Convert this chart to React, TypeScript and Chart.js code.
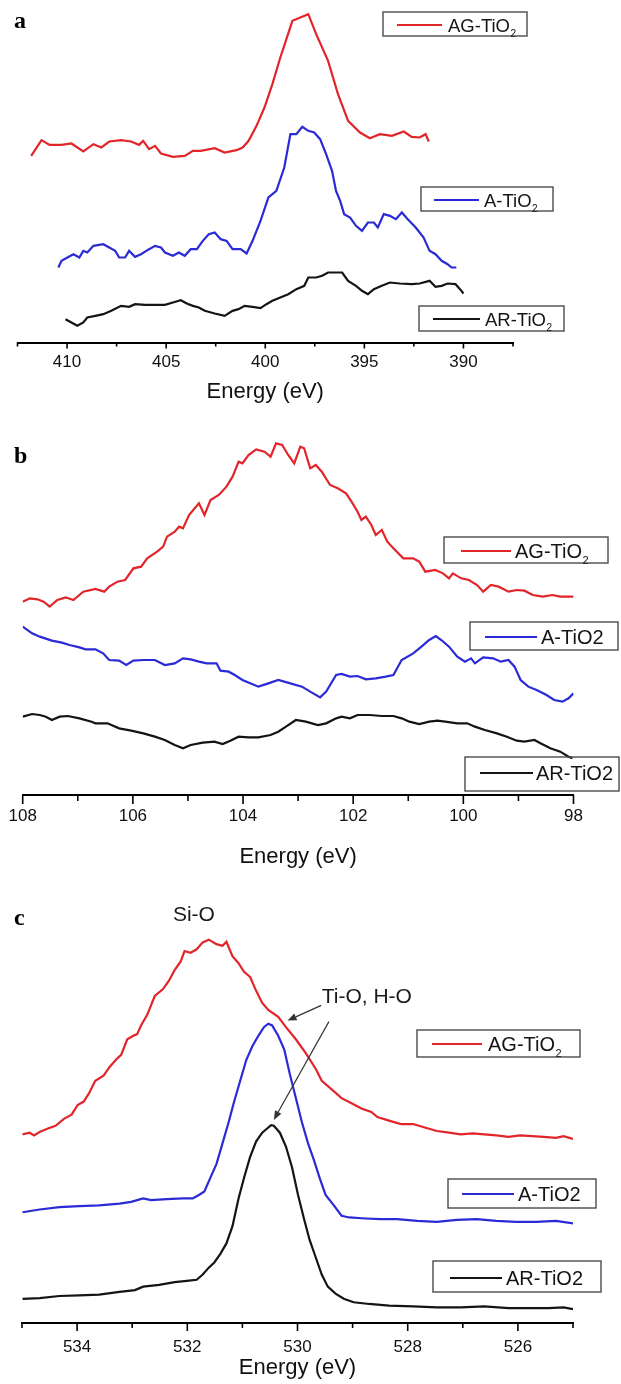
import React, { useEffect, useRef } from 'react';
import { Chart, registerables } from 'chart.js';

Chart.register(...registerables);

// ---------------- DATA ----------------
// Panel a (N 1s region)
const aNames = ['AG-TiO_2', 'A-TiO_2', 'AR-TiO_2'];
const aMajorTicks = [410, 405, 400, 395, 390];
const aMinorTicks = [412.5, 407.5, 402.5, 397.5, 392.5, 387.5];
const aEnergyAG = [411.81, 411.29, 410.88, 410.28, 409.78, 409.18, 408.67, 408.27, 407.87, 407.27, 406.77, 406.37, 406.16, 405.86, 405.56, 405.26, 404.66, 404.06, 403.65, 403.25, 402.55, 402.05, 401.45, 401.14, 400.84, 400.44, 400.04, 399.64, 399.24, 398.63, 398.23, 397.83, 397.43, 396.83, 396.33, 395.82, 395.22, 394.72, 394.22, 393.61, 393.01, 392.61, 392.21, 391.91, 391.75];
const aAG = [560, 607, 593, 593, 597, 573, 595, 585, 603, 607, 603, 593, 605, 580, 590, 567, 557, 560, 575, 575, 583, 570, 577, 585, 605, 650, 705, 775, 855, 965, 975, 985, 925, 845, 745, 665, 630, 613, 625, 620, 633, 617, 615, 625, 603];
const aEnergyA = [410.44, 410.28, 409.98, 409.68, 409.38, 409.18, 408.98, 408.67, 408.17, 407.87, 407.57, 407.37, 407.07, 406.87, 406.57, 406.27, 405.86, 405.56, 405.26, 405.06, 404.66, 404.36, 404.06, 403.76, 403.45, 403.15, 402.85, 402.55, 402.25, 401.95, 401.65, 401.24, 400.94, 400.64, 400.24, 399.84, 399.44, 399.04, 398.73, 398.43, 398.13, 397.83, 397.53, 397.23, 396.93, 396.63, 396.43, 396.22, 396.02, 395.72, 395.42, 395.12, 394.82, 394.52, 394.32, 394.02, 393.71, 393.41, 393.11, 392.81, 392.41, 392.01, 391.71, 391.41, 391.10, 390.80, 390.60, 390.36];
const aA = [225, 245, 255, 265, 255, 275, 270, 290, 295, 285, 275, 255, 255, 275, 257, 265, 280, 290, 285, 270, 260, 270, 260, 280, 280, 305, 325, 330, 310, 305, 280, 280, 267, 305, 365, 435, 455, 525, 625, 625, 647, 635, 630, 610, 565, 515, 455, 425, 385, 375, 350, 335, 360, 360, 345, 385, 380, 370, 390, 370, 345, 315, 275, 265, 245, 235, 225, 225];
const aEnergyAR = [410.08, 409.78, 409.48, 409.18, 408.98, 408.57, 408.17, 407.77, 407.27, 406.87, 406.57, 406.06, 405.56, 405.06, 404.66, 404.26, 403.96, 403.65, 403.35, 403.05, 402.55, 402.05, 401.65, 401.35, 401.04, 400.64, 400.24, 399.94, 399.64, 399.24, 398.84, 398.43, 398.03, 397.83, 397.43, 397.13, 396.83, 396.43, 396.12, 395.82, 395.42, 395.12, 394.82, 394.52, 394.12, 393.71, 393.21, 392.61, 392.21, 391.71, 391.41, 391.10, 390.80, 390.40, 390.10, 390.00];
const aAR = [70, 60, 50, 60, 75, 80, 85, 95, 110, 107, 115, 113, 113, 113, 120, 127, 117, 110, 105, 95, 87, 80, 95, 100, 110, 107, 103, 115, 125, 135, 145, 160, 170, 195, 195, 200, 210, 210, 210, 185, 170, 155, 145, 160, 170, 180, 177, 175, 177, 185, 167, 170, 177, 175, 155, 147];

// Panel b (Si 2p region)
const bNames = ['AG-TiO_2', 'A-TiO2', 'AR-TiO2'];
const bMajorTicks = [108, 106, 104, 102, 100, 98];
const bMinorTicks = [107, 105, 103, 101, 99];
const bEnergyAG = [108.00, 107.87, 107.73, 107.62, 107.51, 107.37, 107.22, 107.08, 106.90, 106.68, 106.52, 106.43, 106.28, 106.14, 105.99, 105.85, 105.74, 105.56, 105.45, 105.38, 105.24, 105.16, 105.09, 104.98, 104.80, 104.70, 104.59, 104.44, 104.30, 104.19, 104.08, 104.01, 103.90, 103.76, 103.61, 103.50, 103.40, 103.29, 103.18, 103.07, 102.96, 102.89, 102.78, 102.68, 102.57, 102.42, 102.28, 102.13, 102.03, 101.92, 101.85, 101.77, 101.67, 101.59, 101.48, 101.38, 101.27, 101.09, 100.91, 100.80, 100.69, 100.51, 100.37, 100.26, 100.19, 100.04, 99.90, 99.75, 99.64, 99.50, 99.36, 99.18, 99.03, 98.89, 98.74, 98.56, 98.38, 98.24, 98.00];
const bAG = [580, 590, 587, 580, 565, 585, 593, 585, 610, 618, 610, 625, 640, 645, 680, 685, 710, 730, 745, 775, 790, 805, 800, 840, 875, 840, 885, 900, 925, 955, 1000, 995, 1020, 1037, 1030, 1015, 1055, 1050, 1020, 995, 1045, 1040, 980, 990, 970, 930, 920, 905, 880, 850, 825, 835, 810, 780, 795, 760, 740, 710, 710, 700, 670, 675, 665, 650, 665, 650, 645, 630, 610, 630, 625, 610, 615, 613, 600, 595, 600, 595, 595];
const bEnergyA = [108.00, 107.83, 107.69, 107.47, 107.29, 107.15, 106.97, 106.86, 106.68, 106.54, 106.43, 106.25, 106.12, 105.99, 105.81, 105.60, 105.42, 105.24, 105.09, 104.95, 104.80, 104.66, 104.48, 104.41, 104.26, 104.15, 104.01, 103.87, 103.72, 103.54, 103.36, 103.14, 102.93, 102.78, 102.60, 102.49, 102.31, 102.21, 102.06, 101.92, 101.77, 101.59, 101.41, 101.27, 101.12, 100.91, 100.76, 100.62, 100.50, 100.40, 100.26, 100.11, 99.97, 99.86, 99.79, 99.64, 99.46, 99.32, 99.18, 99.07, 98.96, 98.82, 98.67, 98.49, 98.35, 98.20, 98.09, 98.00];
const bA = [505, 485, 475, 463, 457, 450, 443, 437, 437, 425, 405, 403, 390, 403, 405, 405, 390, 395, 410, 407, 400, 395, 395, 373, 370, 360, 345, 335, 325, 335, 345, 335, 325, 310, 293, 310, 360, 363, 355, 357, 347, 350, 355, 360, 405, 425, 445, 465, 477, 465, 445, 415, 400, 410, 395, 413, 410, 400, 405, 385, 345, 325, 315, 300, 285, 280, 290, 305];
const bEnergyAR = [108.00, 107.83, 107.69, 107.58, 107.47, 107.33, 107.18, 106.97, 106.75, 106.68, 106.46, 106.25, 106.03, 105.81, 105.60, 105.42, 105.24, 105.09, 104.95, 104.73, 104.52, 104.37, 104.23, 104.08, 103.90, 103.72, 103.50, 103.36, 103.22, 103.04, 102.86, 102.64, 102.49, 102.31, 102.21, 102.06, 101.92, 101.70, 101.48, 101.27, 101.12, 100.98, 100.80, 100.62, 100.47, 100.33, 100.11, 99.93, 99.79, 99.61, 99.39, 99.21, 99.03, 98.89, 98.71, 98.60, 98.42, 98.24, 98.09, 98.02];
const bAR = [235, 243, 240, 235, 225, 235, 237, 230, 220, 215, 215, 200, 193, 185, 175, 165, 150, 140, 150, 157, 160, 153, 163, 175, 173, 173, 180, 190, 205, 225, 220, 210, 215, 230, 235, 230, 240, 240, 237, 237, 230, 220, 213, 220, 223, 220, 215, 215, 205, 195, 185, 175, 163, 160, 165, 155, 140, 130, 115, 110];

// Panel c (O 1s region)
const cNames = ['AG-TiO_2', 'A-TiO2', 'AR-TiO2'];
const cMajorTicks = [534, 532, 530, 528, 526];
const cMinorTicks = [535, 533, 531, 529, 527, 525];
const cEnergyAG = [534.99, 534.86, 534.78, 534.68, 534.53, 534.39, 534.24, 534.10, 533.99, 533.88, 533.78, 533.67, 533.52, 533.41, 533.27, 533.20, 533.09, 532.98, 532.91, 532.84, 532.73, 532.59, 532.44, 532.33, 532.23, 532.12, 532.05, 531.94, 531.83, 531.72, 531.61, 531.47, 531.36, 531.29, 531.18, 531.07, 530.97, 530.86, 530.75, 530.64, 530.53, 530.35, 530.21, 530.03, 529.85, 529.67, 529.56, 529.38, 529.20, 529.02, 528.84, 528.66, 528.55, 528.34, 528.12, 527.90, 527.69, 527.47, 527.25, 527.04, 526.82, 526.61, 526.39, 526.17, 525.96, 525.74, 525.53, 525.31, 525.17, 525.00];
const cAG = [545, 550, 542, 552, 562, 570, 590, 602, 630, 640, 665, 700, 715, 740, 765, 775, 820, 830, 835, 860, 890, 945, 965, 990, 1020, 1045, 1075, 1070, 1080, 1100, 1108, 1095, 1090, 1102, 1060, 1040, 1015, 1000, 960, 925, 905, 885, 855, 820, 780, 735, 700, 675, 650, 635, 620, 610, 595, 585, 575, 575, 565, 555, 550, 545, 548, 545, 542, 538, 542, 540, 538, 535, 540, 532];
const cEnergyA = [534.99, 534.68, 534.32, 533.96, 533.60, 533.23, 533.02, 532.80, 532.66, 532.37, 532.08, 531.90, 531.79, 531.69, 531.58, 531.47, 531.36, 531.25, 531.15, 531.04, 530.93, 530.82, 530.71, 530.61, 530.53, 530.46, 530.35, 530.24, 530.14, 530.03, 529.92, 529.81, 529.70, 529.60, 529.49, 529.34, 529.20, 529.06, 528.77, 528.48, 528.19, 527.83, 527.47, 527.11, 526.75, 526.39, 526.03, 525.67, 525.31, 525.00];
const cA = [320, 328, 335, 338, 340, 345, 350, 360, 355, 358, 360, 360, 370, 380, 420, 460, 520, 580, 640, 700, 760, 800, 830, 855, 865, 860, 830, 790, 720, 650, 580, 520, 470, 420, 370, 340, 310, 305, 302, 300, 300, 295, 292, 298, 300, 295, 292, 292, 295, 288];
const cEnergyAR = [534.99, 534.68, 534.32, 533.96, 533.60, 533.23, 532.95, 532.80, 532.51, 532.23, 532.01, 531.83, 531.72, 531.61, 531.51, 531.40, 531.29, 531.18, 531.07, 530.97, 530.86, 530.75, 530.64, 530.53, 530.48, 530.43, 530.32, 530.21, 530.10, 529.99, 529.88, 529.78, 529.67, 529.56, 529.45, 529.31, 529.16, 528.98, 528.70, 528.34, 527.90, 527.47, 527.04, 526.61, 526.17, 525.81, 525.45, 525.17, 525.00];
const cAR = [70, 72, 78, 80, 82, 90, 95, 105, 110, 118, 122, 125, 140, 160, 175, 200, 230, 280, 360, 420, 480, 525, 550, 565, 572, 570, 550, 510, 450, 370, 300, 240, 190, 140, 105, 85, 70, 60, 55, 50, 48, 45, 45, 48, 43, 43, 43, 45, 40];

// Annotations of panel c, in data coordinates [energy, intensity]
const cNoteLabels = ['Si-O', 'Ti-O, H-O'];
const cNoteAt: [number, number][] = [[531.88, 1179], [529.56, 941]];
const cArrows: [number, number, number, number][] = [
  [529.57, 918, 530.18, 874],
  [529.43, 871, 530.43, 587],
];

// ---------------- STYLE / LAYOUT ----------------
const RED = '#e2252b';
const BLUE = '#2a2ad6';
const BLACK = '#141414';
const COLORS = [RED, BLUE, BLACK];
const FONT = "'Liberation Sans', Arial, Helvetica, sans-serif";
const SERIF = "'Liberation Serif', 'Times New Roman', serif";
const W = 621;

type LegendLayout = { box: [number, number, number, number]; line: [number, number]; y: number; textX: number };

interface PanelSpec {
  key: string;
  letter: string;
  letterPos: [number, number];
  top: number;
  height: number;
  axisY: number;
  padLeft: number;
  padRight: number;
  yMax: number;
  xMin: number;
  xMax: number;
  major: number[];
  minor: number[];
  majorLen: number;
  minorLen: number;
  tickPad: number;
  titlePadBottom: number;
  names: string[];
  xs: number[][];
  ys: number[][];
  legendFont: number;
  legends: LegendLayout[];
  notes?: { labels: string[]; at: [number, number][]; align: CanvasTextAlign[] };
  arrows?: [number, number, number, number][];
}

const PANELS: PanelSpec[] = [
  {
    key: 'a', letter: 'a', letterPos: [14, 28],
    top: 0, height: 405, axisY: 342.5, padLeft: 17.5, padRight: W - 513,
    yMax: 342.5 * 3, xMin: 387.5, xMax: 412.5,
    major: aMajorTicks, minor: aMinorTicks, majorLen: 6, minorLen: 4, tickPad: 4, titlePadBottom: 0,
    names: aNames, xs: [aEnergyAG, aEnergyA, aEnergyAR], ys: [aAG, aA, aAR],
    legendFont: 18.5,
    legends: [
      { box: [383, 12, 527, 36], line: [397, 442], y: 25, textX: 448 },
      { box: [421, 187, 553, 211], line: [434, 479], y: 200, textX: 484 },
      { box: [419, 306, 564, 331], line: [433, 480], y: 319, textX: 485 },
    ],
  },
  {
    key: 'b', letter: 'b', letterPos: [14, 58],
    top: 405, height: 465, axisY: 390, padLeft: 22.7, padRight: W - 573.5,
    yMax: 390 * 3, xMin: 98, xMax: 108,
    major: bMajorTicks, minor: bMinorTicks, majorLen: 9, minorLen: 6, tickPad: 2, titlePadBottom: 0,
    names: bNames, xs: [bEnergyAG, bEnergyA, bEnergyAR], ys: [bAG, bA, bAR],
    legendFont: 20,
    legends: [
      { box: [444, 132, 608, 158], line: [461, 511], y: 146, textX: 515 },
      { box: [470, 217, 618, 245], line: [485, 537], y: 232, textX: 541 },
      { box: [465, 352, 619, 386], line: [480, 533], y: 368, textX: 536 },
    ],
  },
  {
    key: 'c', letter: 'c', letterPos: [14, 55],
    top: 870, height: 514, axisY: 453, padLeft: 22, padRight: W - 573,
    yMax: 453 / 0.346, xMin: 525, xMax: 535,
    major: cMajorTicks, minor: cMinorTicks, majorLen: 8, minorLen: 5, tickPad: 6, titlePadBottom: 2.5,
    names: cNames, xs: [cEnergyAG, cEnergyA, cEnergyAR], ys: [cAG, cA, cAR],
    legendFont: 20,
    legends: [
      { box: [417, 160, 580, 187], line: [432, 482], y: 174, textX: 488 },
      { box: [448, 309, 596, 338], line: [462, 514], y: 324, textX: 518 },
      { box: [433, 391, 601, 422], line: [450, 502], y: 408, textX: 506 },
    ],
    notes: { labels: cNoteLabels, at: cNoteAt, align: ['center', 'left'] },
    arrows: cArrows,
  },
];

function makeDecor(spec: PanelSpec) {
  return {
    id: 'decor_' + spec.key,
    afterDraw(chart: any) {
      const { ctx, chartArea } = chart;
      const xs = chart.scales.x;
      const ys = chart.scales.y;
      const ab = chartArea.bottom;
      ctx.save();
      // tick marks
      ctx.strokeStyle = '#000';
      ctx.lineWidth = 1.6;
      const tick = (v: number, len: number) => {
        const px = xs.getPixelForValue(v);
        ctx.beginPath();
        ctx.moveTo(px, ab);
        ctx.lineTo(px, ab + len);
        ctx.stroke();
      };
      spec.major.forEach((v) => tick(v, spec.majorLen));
      spec.minor.forEach((v) => tick(v, spec.minorLen));

      // legends
      spec.legends.forEach((lg, i) => {
        const [x0, y0, x1, y1] = lg.box;
        ctx.strokeStyle = '#4a4a4a';
        ctx.lineWidth = 1.4;
        ctx.strokeRect(x0, y0, x1 - x0, y1 - y0);
        ctx.strokeStyle = COLORS[i];
        ctx.lineWidth = 2;
        ctx.beginPath();
        ctx.moveTo(lg.line[0], lg.y);
        ctx.lineTo(lg.line[1], lg.y);
        ctx.stroke();
        const fs = spec.legendFont;
        const [main, sub] = spec.names[i].split('_');
        ctx.fillStyle = '#151515';
        ctx.textAlign = 'left';
        ctx.textBaseline = 'alphabetic';
        ctx.font = `${fs}px ${FONT}`;
        const base = lg.y + fs * 0.36;
        ctx.fillText(main, lg.textX, base);
        if (sub) {
          const w = ctx.measureText(main).width;
          ctx.font = `${Math.round(fs * 0.55)}px ${FONT}`;
          ctx.fillText(sub, lg.textX + w + 0.5, base + fs * 0.28);
        }
      });

      // panel letter
      ctx.fillStyle = '#000';
      ctx.font = `bold 24px ${SERIF}`;
      ctx.textAlign = 'left';
      ctx.textBaseline = 'alphabetic';
      ctx.fillText(spec.letter, spec.letterPos[0], spec.letterPos[1]);

      // notes
      if (spec.notes) {
        ctx.fillStyle = '#1a1a1a';
        ctx.font = `21px ${FONT}`;
        ctx.textBaseline = 'middle';
        spec.notes.labels.forEach((t, i) => {
          const [e, v] = spec.notes!.at[i];
          ctx.textAlign = spec.notes!.align[i];
          ctx.fillText(t, xs.getPixelForValue(e), ys.getPixelForValue(v));
        });
      }
      // arrows
      if (spec.arrows) {
        ctx.strokeStyle = '#333';
        ctx.fillStyle = '#333';
        ctx.lineWidth = 1.2;
        spec.arrows.forEach(([e0, v0, e1, v1]) => {
          const xA = xs.getPixelForValue(e0), yA = ys.getPixelForValue(v0);
          const xB = xs.getPixelForValue(e1), yB = ys.getPixelForValue(v1);
          const ang = Math.atan2(yB - yA, xB - xA);
          const L = 9, H = 3.6;
          const bx = xB - L * Math.cos(ang), by = yB - L * Math.sin(ang);
          ctx.beginPath();
          ctx.moveTo(xA, yA);
          ctx.lineTo(bx, by);
          ctx.stroke();
          ctx.beginPath();
          ctx.moveTo(xB, yB);
          ctx.lineTo(bx + H * Math.sin(ang), by - H * Math.cos(ang));
          ctx.lineTo(bx - H * Math.sin(ang), by + H * Math.cos(ang));
          ctx.closePath();
          ctx.fill();
        });
      }
      ctx.restore();
    },
  };
}

function buildConfig(spec: PanelSpec): any {
  const allTicks = [...spec.major, ...spec.minor].sort((a, b) => b - a);
  return {
    type: 'line',
    data: {
      datasets: spec.names.map((n, i) => ({
        label: n.replace('_', ''),
        data: spec.xs[i].map((x, j) => ({ x, y: spec.ys[i][j] })),
        borderColor: COLORS[i],
        borderWidth: 2.2,
        pointRadius: 0,
        tension: 0,
        fill: false,
      })),
    },
    options: {
      responsive: false,
      animation: false,
      events: [],
      layout: { padding: { left: spec.padLeft, right: spec.padRight, top: 0, bottom: 0 } },
      plugins: { legend: { display: false }, tooltip: { enabled: false }, title: { display: false } },
      scales: {
        x: {
          type: 'linear',
          min: spec.xMin,
          max: spec.xMax,
          reverse: true,
          afterBuildTicks: (s: any) => {
            s.ticks = allTicks.map((v) => ({ value: v }));
          },
          afterFit: (s: any) => {
            s.height = spec.height - spec.axisY;
          },
          ticks: {
            autoSkip: false,
            maxRotation: 0,
            minRotation: 0,
            padding: spec.tickPad,
            color: '#111',
            font: { family: FONT, size: 17 },
            callback: (v: number) => (spec.major.includes(v) ? String(v) : ''),
          },
          grid: {
            display: true,
            drawOnChartArea: false,
            drawTicks: true,
            tickLength: spec.majorLen,
            color: 'rgba(0,0,0,0)',
          },
          border: { display: true, color: '#000', width: 2 },
          title: {
            display: true,
            text: 'Energy (eV)',
            color: '#111',
            font: { family: FONT, size: 22 },
            padding: { top: 0, bottom: spec.titlePadBottom },
          },
        },
        y: { type: 'linear', display: false, min: 0, max: spec.yMax },
      },
    },
    plugins: [makeDecor(spec)],
  };
}

function Panel({ spec }: { spec: PanelSpec }) {
  const ref = useRef<HTMLCanvasElement>(null);
  useEffect(() => {
    if (!ref.current) return;
    const chart = new Chart(ref.current, buildConfig(spec));
    return () => chart.destroy();
  }, [spec]);
  return (
    <canvas
      ref={ref}
      width={W}
      height={spec.height}
      style={{ position: 'absolute', left: 0, top: spec.top, width: W, height: spec.height, display: 'block' }}
    />
  );
}

export default function App() {
  useEffect(() => {
    document.body.style.margin = '0';
    document.body.style.background = '#fff';
  }, []);
  return (
    <div style={{ position: 'absolute', left: 0, top: 0, width: W, height: 1384, background: '#fff', overflow: 'hidden' }}>
      {PANELS.map((p) => (
        <Panel key={p.key} spec={p} />
      ))}
    </div>
  );
}
